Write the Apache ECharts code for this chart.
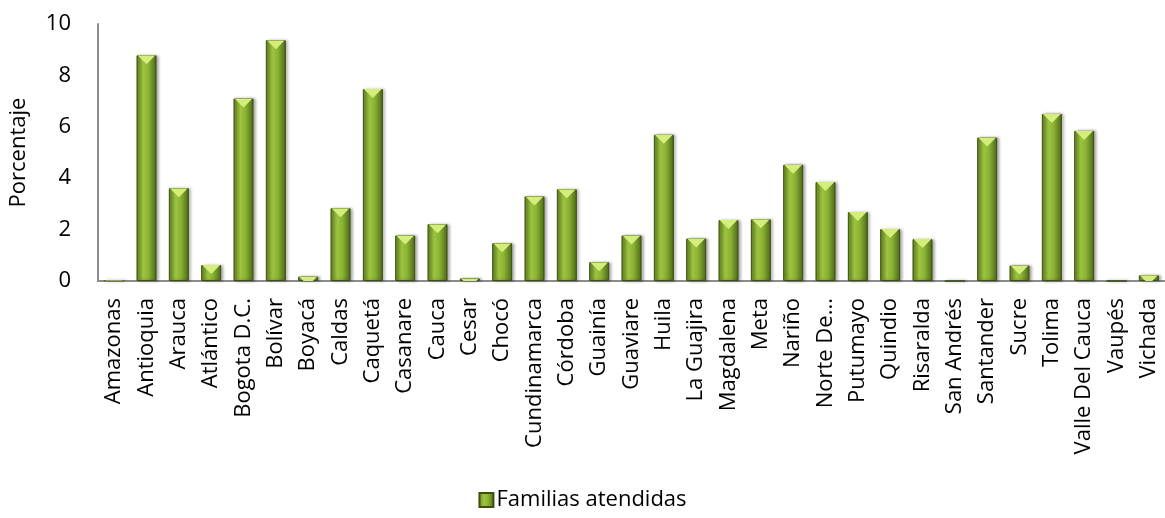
<!DOCTYPE html>
<html>
<head>
<meta charset="utf-8">
<script src="https://cdn.jsdelivr.net/npm/echarts@6/dist/echarts.min.js"></script>
<style>
  html, body { margin: 0; padding: 0; background: #fff; }
  #main { width: 1165px; height: 518px; }
</style>
</head>
<body>
<div id="main"></div>
<script>
  const departamentos = ['Amazonas', 'Antioquia', 'Arauca', 'Atlántico', 'Bogota D.C.', 'Bolívar', 'Boyacá',
    'Caldas', 'Caquetá', 'Casanare', 'Cauca', 'Cesar', 'Chocó', 'Cundinamarca', 'Córdoba', 'Guainía',
    'Guaviare', 'Huila', 'La Guajira', 'Magdalena', 'Meta', 'Nariño', 'Norte De...', 'Putumayo',
    'Quindio', 'Risaralda', 'San Andrés', 'Santander', 'Sucre', 'Tolima', 'Valle Del Cauca', 'Vaupés', 'Vichada'];
  const familias = [0.03, 8.78, 3.61, 0.62, 7.1, 9.37, 0.17,
    2.83, 7.47, 1.77, 2.21, 0.1, 1.47, 3.29, 3.57, 0.73,
    1.77, 5.69, 1.65, 2.37, 2.4, 4.52, 3.85, 2.68,
    2.02, 1.63, 0, 5.58, 0.6, 6.5, 5.84, 0, 0.22];
  const yTicks = { min: 0, max: 10, interval: 2 };

  const fontFam = '"Open Sans", sans-serif';
  const barGradient = new echarts.graphic.LinearGradient(0, 0, 1, 0, [
    { offset: 0, color: '#6a8a25' },
    { offset: 0.35, color: '#9cc43f' },
    { offset: 0.6, color: '#8ab234' },
    { offset: 1, color: '#4c6816' }
  ]);

  const chart = echarts.init(document.getElementById('main'));
  const option = {
    animation: false,
    grid: {
      top: 24,
      left: 95,
      right: -6,
      bottom: 237,
      containLabel: false
    },
    legend: {
      data: [{ name: 'Familias atendidas', icon: 'rect' }],
      bottom: 2,
      left: 'center',
      itemWidth: 14,
      itemHeight: 14,
      itemGap: 6,
      textStyle: { fontFamily: fontFam, fontSize: 22, color: '#000', padding: [0, 0, 0, -2] }
    },
    xAxis: {
      type: 'category',
      data: departamentos,
      axisLine: { lineStyle: { color: '#8c8c8c', width: 2 } },
      axisTick: { show: false },
      axisLabel: {
        interval: 0,
        rotate: 90,
        margin: 17,
        fontFamily: fontFam,
        fontSize: 22,
        color: '#000'
      }
    },
    yAxis: {
      type: 'value',
      min: yTicks.min,
      max: yTicks.max,
      interval: yTicks.interval,
      name: 'Porcentaje',
      nameLocation: 'middle',
      nameGap: 68,
      nameTextStyle: { fontFamily: fontFam, fontSize: 22, color: '#000' },
      axisLine: { show: true, lineStyle: { color: '#8c8c8c', width: 2 } },
      axisTick: { show: false },
      splitLine: { show: false },
      axisLabel: { fontFamily: fontFam, fontSize: 22, color: '#000', margin: 27 }
    },
    series: [
      {
        name: 'Familias atendidas',
        type: 'bar',
        barWidth: 20,
        data: familias,
        itemStyle: {
          color: barGradient,
          borderColor: '#3a4f10',
          borderWidth: 1,
          shadowColor: 'rgba(0,0,0,0.35)',
          shadowBlur: 3,
          shadowOffsetX: 2
        }
      },
      {
        name: 'bisel',
        type: 'pictorialBar',
        data: familias,
        symbol: 'triangle',
        symbolRotate: 180,
        symbolSize: [18, 9],
        symbolPosition: 'end',
        symbolClip: true,
        silent: true,
        z: 3,
        itemStyle: { color: '#d4ee7c' }
      }
    ]
  };
  chart.setOption(option);
</script>
</body>
</html>
